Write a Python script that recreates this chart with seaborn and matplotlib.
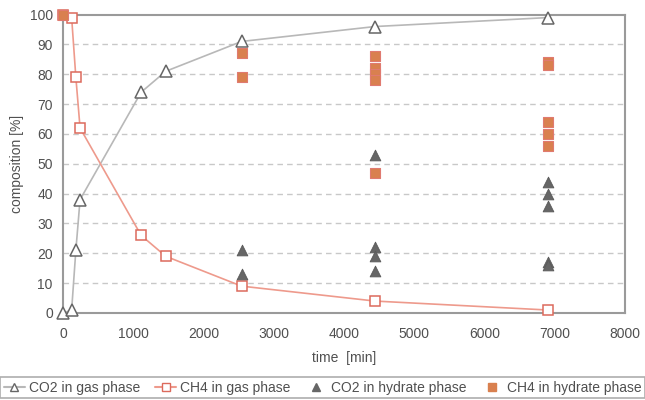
import matplotlib
matplotlib.use("Agg")
import matplotlib.pyplot as plt
import seaborn as sns
import pandas as pd
from matplotlib.lines import Line2D

# Gas phase composition over time
gas_time = [0, 120, 180, 240, 1110, 1460, 2540, 4440, 6900]
co2_gas = [0, 1, 21, 38, 74, 81, 91, 96, 99]
ch4_gas_time = [0, 120, 180, 240, 1110, 1460, 2540, 4440, 6900]
ch4_gas = [100, 99, 79, 62, 26, 19, 9, 4, 1]

# Hydrate phase composition samples
co2_hyd_time = [2540, 2540, 4440, 4440, 4440, 4440, 6900, 6900, 6900, 6900, 6900]
co2_hyd = [21, 13, 53, 22, 19, 14, 44, 40, 36, 17, 16]
ch4_hyd_time = [0, 2540, 2540, 4440, 4440, 4440, 4440, 4440, 6900, 6900, 6900, 6900, 6900]
ch4_hyd = [100, 87, 79, 86, 82, 80, 78, 47, 84, 83, 64, 60, 56]

x_ticks = [0, 1000, 2000, 3000, 4000, 5000, 6000, 7000, 8000]
y_ticks = [0, 10, 20, 30, 40, 50, 60, 70, 80, 90, 100]

sns.set_theme(style="white")
plt.rcParams["font.family"] = ["Liberation Sans", "DejaVu Sans"]

text_c = "#505050"
frame_c = "#9a9a9a"
gray_line = "#b8b8b8"
gray_mark = "#666666"
red_line = "#ee9a8c"
red_mark = "#dc6a5c"
orange = "#d9804f"

fig = plt.figure(figsize=(6.45, 4.0), dpi=100)
ax = fig.add_axes([0.098, 0.2175, 0.871, 0.746])

df_co2 = pd.DataFrame({"time": gas_time, "value": co2_gas})
df_ch4 = pd.DataFrame({"time": ch4_gas_time, "value": ch4_gas})
df_co2h = pd.DataFrame({"time": co2_hyd_time, "value": co2_hyd})
df_ch4h = pd.DataFrame({"time": ch4_hyd_time, "value": ch4_hyd})

for yv in y_ticks[1:-1]:
    ax.axhline(yv, color="#c8c8c8", lw=1.0, ls=(0, (4, 3)), zorder=0)

sns.lineplot(data=df_co2, x="time", y="value", ax=ax, color=gray_line, lw=1.2,
             marker="^", markersize=8, markerfacecolor="white",
             markeredgecolor=gray_mark, markeredgewidth=1.1, zorder=3, clip_on=False)
sns.lineplot(data=df_ch4, x="time", y="value", ax=ax, color=red_line, lw=1.2,
             marker="s", markersize=7, markerfacecolor="white",
             markeredgecolor=red_mark, markeredgewidth=1.1, zorder=3, clip_on=False)
sns.scatterplot(data=df_co2h, x="time", y="value", ax=ax, marker="^", s=60,
                color=gray_mark, edgecolor="#5a5a5a", linewidth=0.6, zorder=4,
                clip_on=False)
sns.scatterplot(data=df_ch4h, x="time", y="value", ax=ax, marker="s", s=50,
                color=orange, edgecolor="#e07a70", linewidth=0.8, zorder=5,
                clip_on=False)

ax.set_xlim(0, 8000)
ax.set_ylim(0, 100)
ax.set_xticks(x_ticks)
ax.set_yticks(y_ticks)
ax.set_xlabel("time  [min]", color=text_c, fontsize=10, labelpad=7)
ax.set_ylabel("composition [%]", color=text_c, fontsize=10, labelpad=4)
ax.tick_params(axis="both", colors=frame_c, labelcolor=text_c, labelsize=10,
               direction="out", length=4, width=1.2)
ax.tick_params(axis="x", pad=6)
for s in ax.spines.values():
    s.set_color(frame_c)
    s.set_linewidth(1.5)

handles = [
    Line2D([], [], color=gray_line, marker="^", markerfacecolor="white",
           markeredgecolor=gray_mark, markersize=6),
    Line2D([], [], color=red_line, marker="s", markerfacecolor="white",
           markeredgecolor=red_mark, markersize=6),
    Line2D([], [], ls="none", marker="^", color=gray_mark, markersize=6),
    Line2D([], [], ls="none", marker="s", color=orange, markersize=6),
]
labels = ["CO2 in gas phase", "CH4 in gas phase", "CO2 in hydrate phase", "CH4 in hydrate phase"]
leg = fig.legend(handles, labels, loc="lower center", bbox_to_anchor=(0.5, 0.005),
                 ncol=4, frameon=True, fancybox=False, fontsize=10,
                 handlelength=1.5, handletextpad=0.3, columnspacing=1.1,
                 borderpad=0.25, borderaxespad=0.0, labelcolor=text_c)
leg.get_frame().set_edgecolor(frame_c)
leg.get_frame().set_linewidth(1.2)

fig.savefig("out.png", dpi=100)
